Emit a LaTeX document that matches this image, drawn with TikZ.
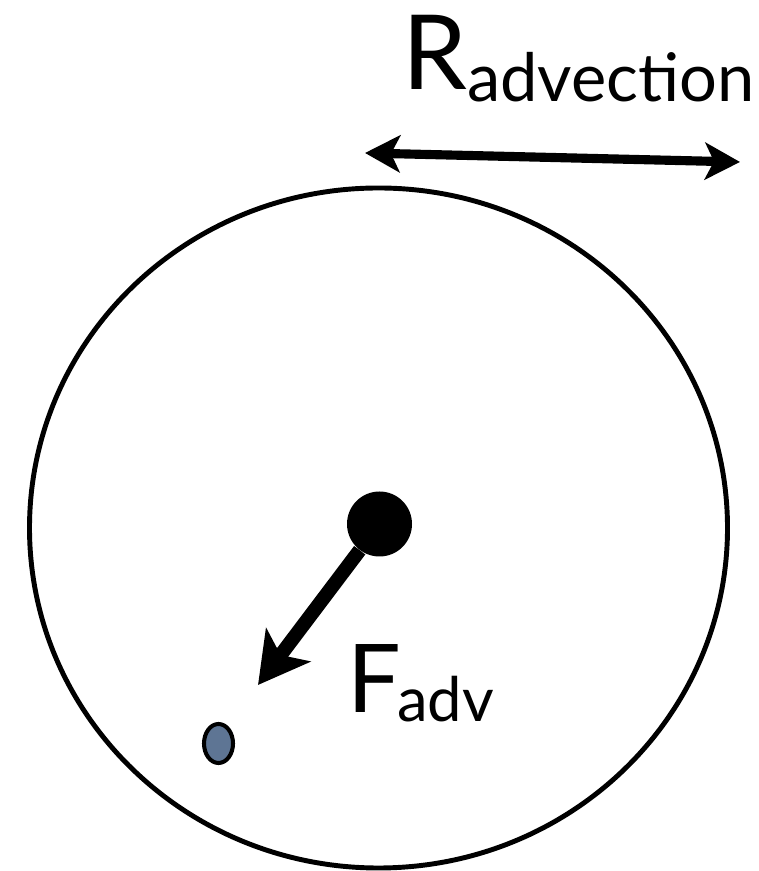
\documentclass[tikz,border=0pt]{standalone}
\usepackage{fontspec}
\setmainfont{Lato}
\usetikzlibrary{arrows.meta,shapes.geometric}
\definecolor{parcelblue}{RGB}{94,117,148}
\begin{document}
\begin{tikzpicture}[
  big/.style={inner sep=0, anchor=base west, font=\fontsize{59}{59}\selectfont},
  small/.style={inner sep=0, anchor=base west}]
\useasboundingbox (0,0) rectangle (15.16,17.42);
% advection region
\draw[line width=2.8pt] (7.57,6.86) ellipse [x radius=6.98, y radius=6.80];
\coordinate (rl) at (7.30,14.36);
\coordinate (rr) at (14.80,14.18);
\draw[line width=5.2pt, {Stealth[length=0.7cm, width=0.74cm, inset=0.18cm]}-{Stealth[length=0.7cm, width=0.74cm, inset=0.18cm]}] (rl) -- (rr);
\node[big] (rlab) at (8.05,15.62) {R};
\node[small, font=\fontsize{38}{38}\selectfont] (rsub) at (9.34,15.38) {advection};
% source and parcel
\node[circle, fill=black, inner sep=0, minimum size=1.3cm] (core) at (7.59,6.94) {};
\node[ellipse, draw, line width=2.3pt, fill=parcelblue, inner sep=0,
  minimum width=0.58cm, minimum height=0.78cm] (parcel) at (4.37,2.55) {};
\coordinate (ftip) at (5.16,3.72);
\draw[line width=8pt, -{Stealth[length=1cm, width=1.1cm, inset=0.25cm]}] (core) -- (ftip);
\node[big, font=\fontsize{54}{54}\selectfont] (flab) at (6.95,3.16) {F};
\node[small, font=\fontsize{35}{35}\selectfont] (fsub) at (7.94,2.98) {adv};
\end{tikzpicture}
\end{document}
